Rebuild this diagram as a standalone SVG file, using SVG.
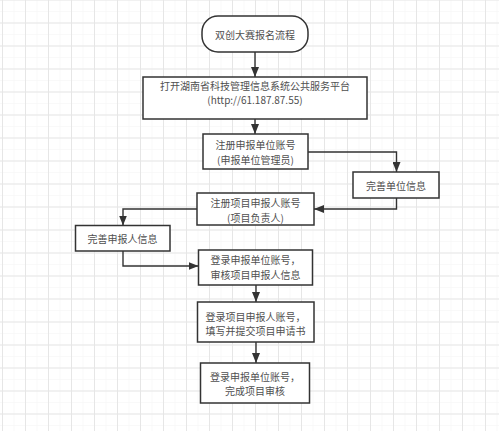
<svg xmlns="http://www.w3.org/2000/svg" width="499" height="431" viewBox="0 0 499 431">
<defs>
<pattern id="minor" x="-9.5" y="11" width="11.5" height="11.5" patternUnits="userSpaceOnUse">
<path d="M0 0 H11.5 M0 0 V11.5" stroke="#f3f3f3" stroke-width="1" fill="none"/>
</pattern>
<pattern id="major" x="2" y="22.5" width="23" height="23" patternUnits="userSpaceOnUse">
<path d="M0 0.5 H23 M0.5 0 V23" stroke="#e6e6e6" stroke-width="1" fill="none"/>
</pattern>
<marker id="arr" markerWidth="10" markerHeight="8" refX="10" refY="4" orient="auto" markerUnits="userSpaceOnUse">
<polygon points="0,0 10,4 0,8" fill="#333"/>
</marker>
</defs>
<style>
.box{fill:#fff;stroke:#333;stroke-width:1.5}
.t{font-family:"Noto Sans CJK SC","Liberation Sans",sans-serif;font-size:10px;fill:#505050;text-anchor:middle;dominant-baseline:central}
.c{fill:none;stroke:#333;stroke-width:1.4;marker-end:url(#arr)}
</style>
<rect width="499" height="431" fill="#fff"/>
<rect width="499" height="431" fill="url(#minor)"/>
<rect width="499" height="431" fill="url(#major)"/>

<g id="connectors">
<path class="c" d="M255 52 V77"/>
<path class="c" d="M255 119 V134"/>
<path class="c" d="M308 152 H396.5 V172"/>
<path class="c" d="M396.5 198 V209 H314"/>
<path class="c" d="M197 209 H123 V225.5"/>
<path class="c" d="M123 251 V266 H198.5"/>
<path class="c" d="M256 285 V302"/>
<path class="c" d="M256 342 V363"/>
</g>

<g id="start">
<rect class="box" x="202" y="16" width="106" height="36" rx="16"/>
<text class="t" x="255" y="34">双创大赛报名流程</text>
</g>
<g id="open-platform">
<rect class="box" x="143" y="77" width="224" height="42"/>
<text class="t" x="255" y="85.25">打开湖南省科技管理信息系统公共服务平台</text>
<text class="t" x="255" y="99.75">(http://61.187.87.55)</text>
</g>
<g id="register-unit">
<rect class="box" x="203" y="134" width="105" height="35"/>
<text class="t" x="255.5" y="144.75">注册申报单位账号</text>
<text class="t" x="255.5" y="159.25">(申报单位管理员)</text>
</g>
<g id="complete-unit">
<rect class="box" x="353" y="172" width="86" height="26"/>
<text class="t" x="396" y="185">完善单位信息</text>
</g>
<g id="register-applicant">
<rect class="box" x="197" y="193" width="117" height="32"/>
<text class="t" x="255.5" y="202.5">注册项目申报人账号</text>
<text class="t" x="255.5" y="217">(项目负责人)</text>
</g>
<g id="complete-applicant">
<rect class="box" x="75.5" y="225.5" width="94.5" height="25.5"/>
<text class="t" x="122.5" y="238">完善申报人信息</text>
</g>
<g id="unit-review-applicant">
<rect class="box" x="198.5" y="250" width="114" height="35"/>
<text class="t" x="255.5" y="259.75">登录申报单位账号，</text>
<text class="t" x="255.5" y="274.25">审核项目申报人信息</text>
</g>
<g id="applicant-submit">
<rect class="box" x="197.5" y="302" width="116.5" height="40"/>
<text class="t" x="255.5" y="316.1">登录项目申报人账号，</text>
<text class="t" x="255.5" y="330.6">填写并提交项目申请书</text>
</g>
<g id="unit-review-project">
<rect class="box" x="200.5" y="363" width="109" height="40"/>
<text class="t" x="255" y="376.25">登录申报单位账号，</text>
<text class="t" x="255" y="390.75">完成项目审核</text>
</g>
</svg>
